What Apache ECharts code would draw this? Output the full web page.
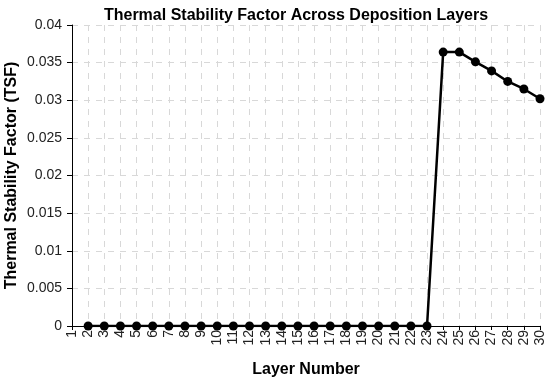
<!DOCTYPE html>
<html><head><meta charset="utf-8">
<script src="https://cdn.jsdelivr.net/npm/echarts@6/dist/echarts.min.js"></script>
<style>html,body{margin:0;padding:0;background:#fff}#c{width:550px;height:382px}</style>
</head><body><div id="c"></div>
<script>
var layers = [2,3,4,5,6,7,8,9,10,11,12,13,14,15,16,17,18,19,20,21,22,23,24,25,26,27,28,29,30];
var tsf = [0,0,0,0,0,0,0,0,0,0,0,0,0,0,0,0,0,0,0,0,0,0,0.0364,0.0364,0.0351,0.0339,0.0325,0.0315,0.0302];
var yTicks = [0,0.005,0.01,0.015,0.02,0.025,0.03,0.035,0.04];
var data = layers.map(function(l,i){return [l, tsf[i]];});
var font = '"Liberation Sans", Arial, sans-serif';
var chart = echarts.init(document.getElementById('c'));
chart.setOption({
  animation:false,
  title:{text:'Thermal Stability Factor Across Deposition Layers',left:291,top:3,textAlign:'center',
    textStyle:{fontFamily:font,fontSize:16,fontWeight:'bold',color:'#000'}},
  grid:{left:72,right:10,top:25,bottom:56,containLabel:false,outerBoundsMode:'none'},
  xAxis:{type:'value',min:1,max:30,interval:1,name:'Layer Number',nameLocation:'middle',nameGap:36,nameMoveOverlap:false,
    nameTextStyle:{fontFamily:font,fontSize:16,fontWeight:'bold',color:'#000'},
    axisLine:{show:true,onZero:false,lineStyle:{color:'#000',width:1}},
    axisTick:{show:true,inside:false,length:4,lineStyle:{color:'#000'}},
    axisLabel:{rotate:90,fontFamily:font,fontSize:14,color:'#222',margin:4,hideOverlap:false},
    splitLine:{show:true,lineStyle:{color:'#d8d8d8',type:[6,6],width:1}}},
  yAxis:{type:'value',min:0,max:0.04,interval:0.005,name:'Thermal Stability Factor (TSF)',nameLocation:'middle',nameGap:52,nameMoveOverlap:false,
    nameTextStyle:{fontFamily:font,fontSize:16,fontWeight:'bold',color:'#000'},
    axisLine:{show:true,lineStyle:{color:'#000',width:1}},
    axisTick:{show:true,inside:false,length:5,lineStyle:{color:'#000'}},
    axisLabel:{fontFamily:font,fontSize:14,color:'#222',margin:10,
      formatter:function(v){return String(parseFloat(v.toFixed(4)));}},
    splitLine:{show:true,lineStyle:{color:'#d8d8d8',type:[6,6],width:1}}},
  series:[{type:'line',data:data,symbol:'circle',symbolSize:9,
    lineStyle:{color:'#000',width:2.5},itemStyle:{color:'#000'},z:5}]
});
</script></body></html>
